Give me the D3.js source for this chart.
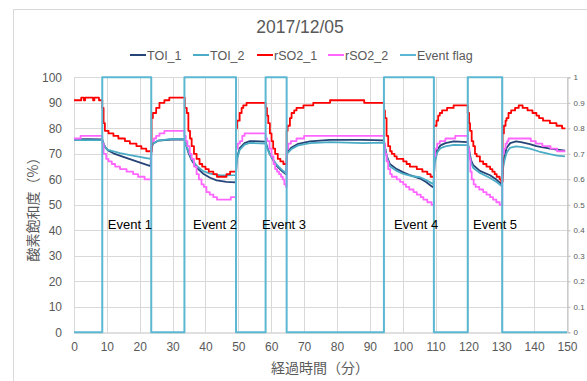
<!DOCTYPE html>
<html lang="ja">
	<head>
		<meta charset="utf-8">
		<title>2017/12/05</title>
		<script type="text/javascript" src="https://d3js.org/d3.v7.min.js"></script>
		<style>
			body { margin: 0; background: #fff; }
			svg text { font-family: "Liberation Sans", Arial, sans-serif; fill: #595959; }
			.jp { font-family: "Noto Sans CJK JP", sans-serif !important; }
		</style>
	</head>
	<body>
		<script type="text/javascript">

			//Chart data: [minute, value]
			var toi1 = [[0,75.6],[4,75.7],[8.6,75.6],[9,74],[9.5,72.5],[10.4,71.3],[12,70.2],[15,68.8],[19,67],[23.3,65.2],
				[23.6,72],[24,74],[25.7,75.2],[29.7,75.6],[33.6,75.6],[34,74],[34.8,70.5],[35.8,67.5],[37.3,64.6],[39.3,62.2],
				[41.4,60.6],[43.4,59.6],[46.4,59],[49.2,58.8],[49.5,68],[50.4,72.2],[51.9,74.2],[53.5,75],[58.3,74.8],[58.8,72.5],
				[59.6,69.8],[60.6,67.5],[61.6,65.4],[63.2,63.3],[64.6,61.9],[64.8,70.5],[66.2,72.5],[68.2,73.9],[71.8,74.9],[77.9,75.5],
				[88,75.5],[94.3,75.3],[94.7,72],[95.2,69],[96.1,66],[98.2,64],[100.2,62.7],[102.5,61.5],[105.3,60.3],[107,59],
				[108.8,57.3],[109.4,56.8],[109.7,67],[110.5,71.5],[111.5,73.3],[113,74.2],[115.5,74.9],[119.8,74.6],[120.2,71.6],[120.8,67.5],
				[121.5,65.5],[123.5,63.3],[126.6,61.6],[128.6,59.8],[130.2,58],[130.5,66],[131,69],[131.6,72.3],[132.7,74.2],[134.5,74.9],
				[136,74.6],[138.7,73.8],[140.7,73],[144.8,72],[149.4,71.2]];

			var toi2 = [[0,75.4],[8.6,75.4],[9,74],[9.5,72.5],[10.1,71.6],[14,70.3],[17.9,69.3],[23.3,68],[23.6,72],[24,74],
				[25.7,75.2],[29.7,75.8],[33.6,75.8],[34,74],[34.8,71],[35.8,68],[37.3,65.3],[39.3,63.2],[41.4,62.2],[44.5,61.5],
				[49.2,61.6],[49.5,67.5],[50.4,71.5],[51.9,73.6],[53.5,74.3],[58.3,74],[58.8,72],[59.6,69.8],[60.6,67.8],[61.6,65.8],
				[63.2,63.8],[64.6,62.3],[64.8,70],[66.2,71.9],[68.2,73.3],[71.8,74.2],[77.9,74.6],[88,74.2],[94.3,74.4],[94.7,72],
				[95.2,68.5],[96.1,65.1],[98.2,63.3],[100.2,62.1],[102.5,61.3],[105.3,60.8],[107,59.8],[108.8,58.5],[109.4,58.2],[109.7,66],
				[110.5,70.5],[111.5,72.2],[113,72.9],[115.5,73.5],[119.8,73.4],[120.2,70.5],[120.8,66.5],[121.5,64.4],[123.5,62.5],[126.6,60.5],
				[128.6,58.9],[130.2,57.3],[130.5,64],[131,67.5],[131.6,70.3],[132.6,72.3],[134.5,72.9],[136.5,72.6],[138.7,72],[141.5,70.9],
				[144.8,69.9],[147,69.3],[149.4,69]];

			var rso2_1 = [[0,91],[2.2,92],[3,91],[3.4,92],[5.8,91],[6.2,92],[7.6,91],[8.6,88],[9,82],[9.4,79],
				[10.5,78],[12,77],[13.5,76],[15.5,75],[17,74],[19,73],[20.5,72],[22,71],[23.6,84],[24,86],
				[25,88],[26,90],[27.5,91],[29,92],[33.7,88],[34.3,86],[34.8,79],[35.3,76],[35.8,73],[36.5,70],
				[37.3,68],[38.2,66],[39,65],[40,64],[41,63],[42.4,62],[43.5,61],[46.4,62],[47.5,63],[49.3,80],
				[49.6,83],[50.4,86],[51,88],[51.5,89],[52.5,90],[58.3,88],[58.7,85],[59.1,82],[59.6,78],[60.1,75],
				[60.6,72],[61.2,70],[62,68],[62.8,67],[63.7,66],[64.7,79],[65,81],[65.7,84],[66.2,86],[67,87],
				[67.7,88],[69.8,89],[72.8,90],[77.9,91],[88.3,90],[94.3,87],[94.6,84],[95.1,77],[95.6,73],[96.2,71],
				[96.7,70],[97.5,69],[98.2,68],[100.2,67],[101.2,66],[102.2,65],[104.3,64],[106,63],[107.5,62],[108.5,61],
				[109.5,81],[110.3,83],[110.8,85],[111.3,86],[112,87],[113.5,88],[115.5,89],[119.8,86],[120.2,82],[120.5,79],
				[121,75],[121.5,73],[122,70],[122.5,69],[123.5,67],[124.5,66],[125.5,65],[126.6,64],[127.3,63],[128,62],
				[128.6,61],[129.5,60],[130,59],[130.4,78],[130.8,81],[131.3,83],[131.6,84],[132.2,86],[133,87],[134.2,88],
				[135.3,89],[136.5,88],[138,87],[139.5,86],[140.7,85],[141.5,84],[142.7,83],[144.8,82],[146.8,81],[148.5,80],
				[149.5,80]];

			var rso2_2 = [[0,76],[2,77],[8.6,74],[9,70],[9.8,68],[10.5,67],[11.5,66],[12.5,65],[14,64],[16,63],
				[18,62],[19.5,61],[21.5,60],[23.5,75],[24.3,76],[25,77],[26,78],[27.5,79],[33.6,77],[34,75],
				[34.5,73],[35.2,70],[35.8,68],[36.5,65],[37.3,62],[38,60],[38.8,58],[39.5,57],[40.3,55],[41.3,54],
				[42.4,53],[43.5,52],[47.7,53],[49.3,72],[49.8,74],[50.5,75],[51.2,77],[51.9,78],[58.3,76],[58.8,75],
				[59.5,72],[60.1,69],[60.7,66],[61.2,64],[61.8,63],[62.4,62],[63,61],[63.5,60],[64,58],[64.5,57],
				[64.7,72],[65.2,74],[66,75],[67.7,76],[70,77],[94.3,74],[94.6,70],[95.1,67],[95.6,64],[96.2,62],
				[96.7,61],[98.2,60],[99.2,59],[100.2,58],[101,57],[102,56],[103.3,55],[104.3,54],[105.5,53],[106.3,52],
				[107.5,51],[108.8,50],[109.5,69],[109.9,72],[110.5,74],[111.3,75],[113,76],[116,77],[119.8,72],[120.3,68],
				[120.6,63],[121,60],[121.6,58],[122.2,57],[123.3,56],[124.5,55],[125.5,54],[126.6,53],[127.5,52],[128.5,51],
				[129.5,50],[130.3,70],[130.8,72],[131.3,74],[131.8,75],[132.2,76],[139,75],[140.5,74],[142.5,73],[145,72],
				[147,71],[149.5,71]];

			//Event flag (right axis, 0 or 1)
			var eventFlag = [[0,0],[8.6,1],[23.5,0],[33.6,1],[49.3,0],[58.3,1],[64.7,0],[94.3,1],[109.5,0],[119.8,1],[130.3,0],[150,0]];

			//Event label texts and the minute where each label starts
			var eventNames = ["Event 1", "Event 2", "Event 3", "Event 4", "Event 5"];
			var eventLabelMinutes = [10.3, 36.2, 57.2, 97.4, 121.4];

			var seriesNames = ["TOI_1", "TOI_2", "rSO2_1", "rSO2_2", "Event flag"];
			var seriesColors = ["#264478", "#4BACC6", "#FF0000", "#FF66FF", "#5CB8D2"];

			var xTicks = d3.range(0, 151, 10);
			var yTicks = d3.range(0, 101, 10);
			var y2Ticks = d3.range(0, 11).map(function(d) { return d / 10; });

			//Width and height
			var w = 587;
			var h = 381;

			var svg = d3.select("body")
						.append("svg")
						.attr("width", w)
						.attr("height", h);

			//Chart area border
			svg.append("rect")
				.attr("x", 13.5).attr("y", 9.5)
				.attr("width", 620).attr("height", 400)
				.attr("fill", "none")
				.attr("stroke", "#d9d9d9");

			//Scales
			var x = d3.scaleLinear().domain([0, 150]).range([74, 567]);
			var y = d3.scaleLinear().domain([0, 100]).range([332.3, 77.3]);
			var y2 = d3.scaleLinear().domain([0, 1]).range([332.3, 77.3]);

			//Gridlines
			svg.append("g")
				.selectAll("line.h")
				.data(yTicks.slice(1))
				.enter().append("line")
				.attr("x1", x(0)).attr("x2", x(150))
				.attr("y1", function(d) { return Math.round(y(d)) + 0.5; })
				.attr("y2", function(d) { return Math.round(y(d)) + 0.5; })
				.attr("stroke", "#d9d9d9");

			svg.append("g")
				.selectAll("line.v")
				.data(xTicks)
				.enter().append("line")
				.attr("x1", function(d) { return Math.round(x(d)) + 0.5; })
				.attr("x2", function(d) { return Math.round(x(d)) + 0.5; })
				.attr("y1", y(0)).attr("y2", y(100))
				.attr("stroke", "#d9d9d9");

			//Axes
			var xAxis = svg.append("g")
				.attr("transform", "translate(0," + (Math.round(y(0)) + 0.5) + ")")
				.call(d3.axisBottom(x).tickValues(xTicks).tickSize(0).tickPadding(10));
			xAxis.select(".domain").attr("stroke", "#bfbfbf");
			xAxis.selectAll("text").style("font-size", "12px");

			var yAxis = svg.append("g")
				.attr("transform", "translate(" + x(0) + ",0)")
				.call(d3.axisLeft(y).tickValues(yTicks).tickSize(0).tickPadding(12));
			yAxis.select(".domain").remove();
			yAxis.selectAll("text").style("font-size", "12px");

			var y2Axis = svg.append("g")
				.attr("transform", "translate(" + (Math.round(x(150)) + 0.5) + ",0)")
				.call(d3.axisRight(y2).tickValues(y2Ticks).tickSize(3).tickPadding(3)
					.tickFormat(function(d) { return d === 0 || d === 1 ? d : d.toFixed(1); }));
			y2Axis.select(".domain").attr("stroke", "#bfbfbf");
			y2Axis.selectAll("line").attr("stroke", "#bfbfbf");
			y2Axis.selectAll("text").style("font-size", "8px");

			//Line generators
			var smoothLine = d3.line()
				.x(function(d) { return x(d[0]); })
				.y(function(d) { return y(d[1]); });

			var stepLine = d3.line()
				.curve(d3.curveStepAfter)
				.x(function(d) { return x(d[0]); })
				.y(function(d) { return y(d[1]); });

			var flagLine = d3.line()
				.curve(d3.curveStepAfter)
				.x(function(d) { return x(d[0]); })
				.y(function(d) { return y2(d[1]); });

			var series = [
				{data: toi1, gen: smoothLine},
				{data: toi2, gen: smoothLine},
				{data: rso2_1, gen: stepLine},
				{data: rso2_2, gen: stepLine},
				{data: eventFlag, gen: flagLine}
			];

			svg.append("g")
				.selectAll("path")
				.data(series)
				.enter().append("path")
				.attr("d", function(d) { return d.gen(d.data); })
				.attr("fill", "none")
				.attr("stroke", function(d, i) { return seriesColors[i]; })
				.attr("stroke-width", function(d, i) { return i === 4 ? 2 : 1.8; })
				.attr("stroke-linejoin", "round");

			//Event labels
			svg.append("g")
				.selectAll("text")
				.data(eventNames)
				.enter().append("text")
				.attr("x", function(d, i) { return x(eventLabelMinutes[i]); })
				.attr("y", 229)
				.style("font-size", "13px")
				.style("fill", "#000")
				.text(function(d) { return d; });

			//Title
			svg.append("text")
				.attr("x", 300).attr("y", 33)
				.attr("text-anchor", "middle")
				.style("font-size", "17.5px")
				.text("2017/12/05");

			//Legend
			var legendX = [130, 193, 257, 328, 400];
			var legend = svg.append("g")
				.selectAll("g")
				.data(seriesNames)
				.enter().append("g")
				.attr("transform", function(d, i) { return "translate(" + legendX[i] + ",55)"; });
			legend.append("line")
				.attr("x1", 0).attr("x2", 16)
				.attr("stroke", function(d, i) { return seriesColors[i]; })
				.attr("stroke-width", 2);
			legend.append("text")
				.attr("x", 17).attr("y", 4.5)
				.style("font-size", "12.5px")
				.text(function(d) { return d; });

			//Axis titles
			svg.append("text")
				.attr("class", "jp")
				.attr("transform", "translate(38,206) rotate(-90)")
				.attr("text-anchor", "middle")
				.style("font-size", "14px")
				.text("酸素飽和度（%）");

			svg.append("text")
				.attr("class", "jp")
				.attr("x", 320).attr("y", 373)
				.attr("text-anchor", "middle")
				.style("font-size", "14px")
				.text("経過時間（分）");

		</script>
	</body>
</html>
